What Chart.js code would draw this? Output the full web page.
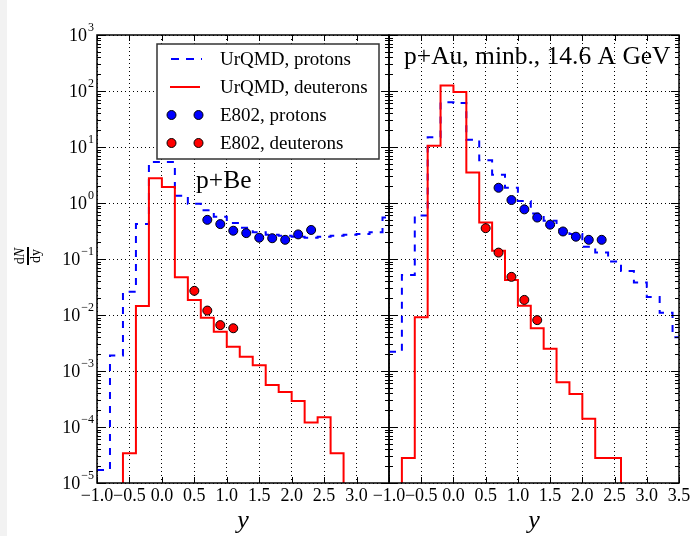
<!DOCTYPE html>
<html>
<head>
<meta charset="utf-8">
<script src="https://cdn.jsdelivr.net/npm/chart.js@4.4.0/dist/chart.umd.min.js"></script>
<style>
  html, body { margin: 0; padding: 0; background: #fff; }
  #wrap { position: relative; width: 691px; height: 536px; }
  #strip { position: absolute; left: 0; top: 0; width: 7px; height: 536px; background: #f2f2f2; }
  canvas { position: absolute; left: 0; top: 0; }
</style>
</head>
<body>
<div id="wrap">
  <div id="strip"></div>
  <canvas id="beChart" width="691" height="536"></canvas>
  <canvas id="auChart" width="691" height="536"></canvas>
</div>
<script>
// rapidity bins, width 0.2 (lower edges + last upper edge)
const binLo = [-1.0, -0.8, -0.6, -0.4, -0.2, 0.0, 0.2, 0.4, 0.6, 0.8, 1.0, 1.2, 1.4, 1.6, 1.8, 2.0, 2.2, 2.4, 2.6, 2.8, 3.0, 3.2, 3.4];
const binHi = 3.6;
// 1e-6 = empty bin (falls below the axis)

// p+Be
const beUrqmdP = [1.7e-5, 1.9e-3, 0.026, 0.42, 5.4, 5.4, 1.35, 0.97, 0.74, 0.57, 0.44, 0.36, 0.30, 0.27, 0.26, 0.25, 0.24, 0.25, 0.26, 0.27, 0.28, 0.30, 0.55];
const beUrqmdD = [1e-6, 1e-6, 3.4e-5, 0.0145, 2.76, 1.93, 0.047, 0.0186, 0.0089, 0.0050, 0.0027, 0.0018, 0.00127, 5.6e-4, 4.2e-4, 2.9e-4, 1.2e-4, 1.5e-4, 3.4e-5, 1e-6, 1e-6, 1e-6, 1e-6];
const beE802PY = [0.7, 0.9, 1.1, 1.3, 1.5, 1.7, 1.9, 2.1, 2.3];
const beE802P = [0.50, 0.42, 0.32, 0.29, 0.24, 0.235, 0.22, 0.275, 0.33];
const beE802DY = [0.5, 0.7, 0.9, 1.1];
const beE802D = [0.027, 0.012, 0.0066, 0.0058];

// p+Au
const auUrqmdP = [2.2e-3, 0.052, 0.60, 15, 63, 61, 13.5, 5.8, 3.2, 1.87, 1.09, 0.65, 0.48, 0.34, 0.28, 0.165, 0.13, 0.09, 0.061, 0.038, 0.021, 0.011, 0.004];
const auUrqmdD = [1e-6, 2.8e-5, 9.1e-3, 10.5, 125, 96, 3.5, 0.45, 0.14, 0.042, 0.0147, 0.0058, 0.0025, 6.3e-4, 3.9e-4, 1.4e-4, 2.8e-5, 2.8e-5, 1e-6, 1e-6, 1e-6, 1e-6, 1e-6];
const auE802PY = [0.7, 0.9, 1.1, 1.3, 1.5, 1.7, 1.9, 2.1, 2.3];
const auE802P = [1.87, 1.13, 0.77, 0.55, 0.41, 0.31, 0.25, 0.22, 0.22];
const auE802DY = [0.5, 0.7, 0.9, 1.1, 1.3];
const auE802D = [0.355, 0.13, 0.048, 0.0186, 0.0081];

// axes
const xTickVals = [-1.0, -0.5, 0.0, 0.5, 1.0, 1.5, 2.0, 2.5, 3.0, 3.5];
const xTickText = ['\u22121.0', '\u22120.5', '0.0', '0.5', '1.0', '1.5', '2.0', '2.5', '3.0', '3.5'];
const yTickExp = [3, 2, 1, 0, -1, -2, -3, -4, -5];

const SERIF = '"Liberation Serif", "Times New Roman", serif';
const BLUE = '#0000ff';
const RED = '#ff0000';

function histPoints(vals) {
  const pts = binLo.map((x, i) => ({ x: x, y: vals[i] }));
  pts.push({ x: binHi, y: vals[vals.length - 1] });
  return pts;
}
function dots(xs, ys) {
  return xs.map((x, i) => ({ x: x, y: ys[i] }));
}

function decor(panel) {
  return {
    id: 'decor',
    afterDraw(chart) {
      const ctx = chart.ctx, a = chart.chartArea;
      const xs = chart.scales.x, ys = chart.scales.y;
      ctx.save();
      ctx.strokeStyle = '#000';
      ctx.lineWidth = 1;
      // y ticks, inside, both sides
      for (let e = -5; e <= 3; e++) {
        for (let k = 1; k <= 9; k++) {
          if (e === 3 && k > 1) break;
          const y = Math.round(ys.getPixelForValue(k * Math.pow(10, e))) + 0.5;
          const len = k === 1 ? 8 : 4;
          ctx.beginPath();
          ctx.moveTo(a.left, y); ctx.lineTo(a.left + len, y);
          ctx.moveTo(a.right, y); ctx.lineTo(a.right - len, y);
          ctx.stroke();
        }
      }
      // x ticks, inside, top and bottom
      xTickVals.forEach(v => {
        const x = Math.round(xs.getPixelForValue(v)) + 0.5;
        ctx.beginPath();
        ctx.moveTo(x, a.bottom); ctx.lineTo(x, a.bottom - 6);
        ctx.moveTo(x, a.top); ctx.lineTo(x, a.top + 6);
        ctx.stroke();
      });
      // frame
      ctx.lineWidth = 1.5;
      ctx.strokeRect(a.left, a.top, a.right - a.left, a.bottom - a.top);

      ctx.fillStyle = '#000';
      // x tick labels
      ctx.font = '18px ' + SERIF;
      ctx.textAlign = 'center';
      ctx.textBaseline = 'middle';
      xTickVals.forEach((v, i) => {
        if (i >= panel.nXLabels) return;
        ctx.fillText(xTickText[i], xs.getPixelForValue(v), a.bottom + 13);
      });
      // x title
      ctx.font = 'italic 26px ' + SERIF;
      ctx.fillText('y', (a.left + a.right) / 2, a.bottom + 38);

      // panel text
      ctx.font = '25.5px ' + SERIF;
      ctx.textAlign = 'left';
      ctx.textBaseline = 'alphabetic';
      ctx.fillText(panel.title, panel.titleX, panel.titleY);

      if (panel.yLabels) {
        // y tick labels 10^n
        const right = a.left - 3;
        yTickExp.forEach(e => {
          const y = ys.getPixelForValue(Math.pow(10, e));
          const ex = e < 0 ? '\u2212' + (-e) : String(e);
          ctx.font = '12px ' + SERIF;
          const wEx = ctx.measureText(ex).width;
          ctx.textAlign = 'left';
          ctx.textBaseline = 'middle';
          ctx.fillText(ex, right - wEx, y - 7);
          ctx.font = '18px ' + SERIF;
          ctx.textAlign = 'right';
          ctx.fillText('10', right - wEx - 1, y + 1);
        });
        // y axis title dN/dy
        ctx.save();
        ctx.translate(28, 256);
        ctx.rotate(-Math.PI / 2);
        ctx.textBaseline = 'middle';
        ctx.font = '14px ' + SERIF;
        const wd = ctx.measureText('d').width;
        ctx.font = 'italic 14px ' + SERIF;
        const wN = ctx.measureText('N').width;
        ctx.textAlign = 'left';
        ctx.font = '14px ' + SERIF;
        ctx.fillText('d', -(wd + wN) / 2, -8);
        ctx.font = 'italic 14px ' + SERIF;
        ctx.fillText('N', -(wd + wN) / 2 + wd, -8);
        ctx.font = '14px ' + SERIF;
        const wdy = ctx.measureText('dy').width;
        ctx.fillText('dy', -wdy / 2, 8);
        ctx.fillRect(-9, -1, 18, 2);
        ctx.restore();
      }

      if (panel.legend) {
        const bx = 157, by = 44, bw = 222, bh = 115;
        ctx.fillStyle = '#fff';
        ctx.fillRect(bx, by, bw, bh);
        ctx.strokeStyle = '#333';
        ctx.lineWidth = 1.5;
        ctx.strokeRect(bx, by, bw, bh);
        const rows = [59, 87, 115, 143];
        // UrQMD protons
        ctx.strokeStyle = BLUE; ctx.lineWidth = 2;
        ctx.setLineDash([8, 7]);
        ctx.beginPath(); ctx.moveTo(171, rows[0]); ctx.lineTo(202, rows[0]); ctx.stroke();
        ctx.setLineDash([]);
        // UrQMD deuterons
        ctx.strokeStyle = RED;
        ctx.beginPath(); ctx.moveTo(170, rows[1]); ctx.lineTo(200, rows[1]); ctx.stroke();
        // E802 markers
        [[BLUE, rows[2]], [RED, rows[3]]].forEach(([c, y]) => {
          [171.5, 198.5].forEach(x => {
            ctx.beginPath();
            ctx.arc(x, y, 4.5, 0, 2 * Math.PI);
            ctx.fillStyle = c; ctx.fill();
            ctx.strokeStyle = '#000'; ctx.lineWidth = 1; ctx.stroke();
          });
        });
        ctx.fillStyle = '#000';
        ctx.font = '19px ' + SERIF;
        ctx.textAlign = 'left';
        ctx.textBaseline = 'middle';
        ['UrQMD, protons', 'UrQMD, deuterons', 'E802, protons', 'E802, deuterons'].forEach((t, i) => {
          ctx.fillText(t, 220, rows[i] + 1);
        });
      }
      ctx.restore();
    }
  };
}

function makePanel(id, pad, series, panel) {
  const gridOpts = { color: '#000', lineWidth: 1, drawTicks: false };
  return new Chart(document.getElementById(id), {
    type: 'scatter',
    data: {
      datasets: [
        { label: 'E802, protons', data: dots(series.pY, series.p), pointRadius: 4.5,
          pointBackgroundColor: BLUE, pointBorderColor: '#000', pointBorderWidth: 1, order: 0 },
        { label: 'E802, deuterons', data: dots(series.dY, series.d), pointRadius: 4.5,
          pointBackgroundColor: RED, pointBorderColor: '#000', pointBorderWidth: 1, order: 1 },
        { label: 'UrQMD, deuterons', data: histPoints(series.ud), showLine: true, stepped: true,
          borderColor: RED, borderWidth: 2, pointRadius: 0, fill: false, clip: 0, order: 2 },
        { label: 'UrQMD, protons', data: histPoints(series.up), showLine: true, stepped: true,
          borderColor: BLUE, borderWidth: 2, borderDash: [7, 7], pointRadius: 0, fill: false, clip: 0, order: 3 }
      ]
    },
    options: {
      responsive: false,
      animation: false,
      devicePixelRatio: 1,
      layout: { padding: pad },
      plugins: { legend: { display: false }, tooltip: { enabled: false } },
      scales: {
        x: {
          type: 'linear', min: -1, max: 3.5,
          ticks: { display: false, stepSize: 0.5 },
          grid: gridOpts,
          border: { display: false, dash: [1, 3] },
          afterFit(s) { s.height = 0; }
        },
        y: {
          type: 'logarithmic', min: 1e-5, max: 1e3,
          ticks: { display: false },
          grid: gridOpts,
          border: { display: false, dash: [1, 3] },
          afterBuildTicks(s) { s.ticks = yTickExp.map(e => ({ value: Math.pow(10, e) })); },
          afterFit(s) { s.width = 0; }
        }
      }
    },
    plugins: [decor(panel)]
  });
}

makePanel('beChart', { left: 97, right: 302, top: 35, bottom: 53 },
  { up: beUrqmdP, ud: beUrqmdD, pY: beE802PY, p: beE802P, dY: beE802DY, d: beE802D },
  { nXLabels: 9, title: 'p+Be', titleX: 196, titleY: 188, yLabels: true, legend: true });

makePanel('auChart', { left: 389, right: 12, top: 35, bottom: 53 },
  { up: auUrqmdP, ud: auUrqmdD, pY: auE802PY, p: auE802P, dY: auE802DY, d: auE802D },
  { nXLabels: 10, title: 'p+Au, minb., 14.6 A GeV', titleX: 404, titleY: 64, yLabels: false, legend: false });
</script>
</body>
</html>
